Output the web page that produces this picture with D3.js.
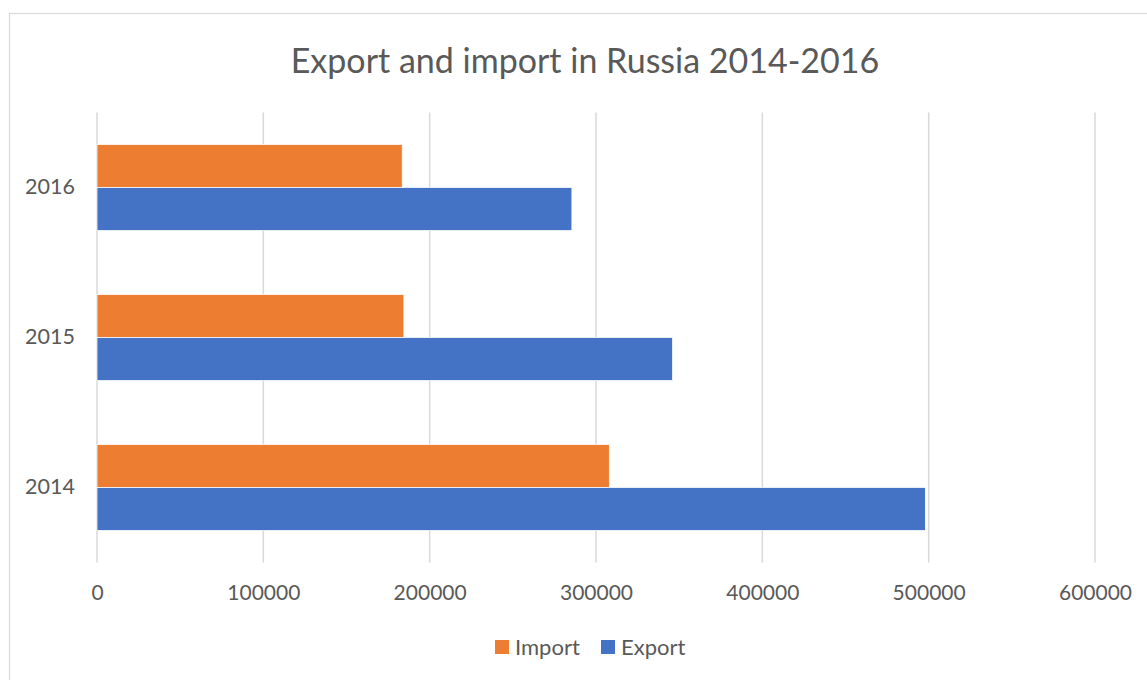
<!DOCTYPE html>
<html>
<head>
<meta charset="utf-8">
<script src="https://cdn.jsdelivr.net/npm/d3@7"></script>
<style>
  html, body { margin: 0; padding: 0; background: #fff; }
  svg { display: block; }
  text { font-family: Lato, "Open Sans", sans-serif; fill: #595959; }
</style>
</head>
<body>
<svg id="chart" width="1147" height="680"></svg>
<script>
// Export and import of Russia, 2014–2016
const years = ["2016", "2015", "2014"];
const seriesNames = ["Import", "Export"];
const importValues = [183500, 184500, 308000];
const exportValues = [285500, 346000, 498000];
const xTicks = [0, 100000, 200000, 300000, 400000, 500000, 600000];
const seriesColors = ["#ED7D31", "#4472C4"];

const rows = years.map((y, i) => ({ year: y, Import: importValues[i], Export: exportValues[i] }));

const W = 1147, H = 680;
const plot = { left: 97, right: 1095, top: 112.5, bottom: 562.5 };

const svg = d3.select("#chart");

// chart area frame
svg.append("rect")
  .attr("x", 9.5).attr("y", 13.5)
  .attr("width", W + 20).attr("height", H + 20)
  .attr("fill", "#fff").attr("stroke", "#D9D9D9").attr("stroke-width", 1.2);

// title
svg.append("text")
  .attr("x", 585).attr("y", 73)
  .attr("text-anchor", "middle")
  .style("font-size", "34px")
  .text("Export and import in Russia 2014-2016");

const x = d3.scaleLinear().domain([0, 600000]).range([plot.left, plot.right]);
const y = d3.scaleBand().domain(years).range([plot.top, plot.bottom])
  .paddingInner(0.4267).paddingOuter(0.21335);
const ySub = d3.scaleBand().domain(seriesNames).range([0, y.bandwidth()]);
const color = d3.scaleOrdinal().domain(seriesNames).range(seriesColors);

// vertical gridlines
svg.append("g")
  .selectAll("line")
  .data(xTicks)
  .join("line")
  .attr("x1", d => x(d)).attr("x2", d => x(d))
  .attr("y1", plot.top).attr("y2", plot.bottom)
  .attr("stroke", "#D9D9D9").attr("stroke-width", 1.5);

// x axis labels
const xAxis = d3.axisBottom(x).tickValues(xTicks).tickSize(0).tickPadding(0)
  .tickFormat(d3.format("d"));
const gx = svg.append("g").attr("transform", `translate(0,${plot.bottom + 23})`).call(xAxis);
gx.select(".domain").remove();
gx.selectAll("text").style("font-size", "21px").attr("fill", "#595959")
  .attr("dy", "0.71em");

// y axis labels
const yAxis = d3.axisLeft(y).tickSize(0).tickPadding(0);
const gy = svg.append("g").attr("transform", `translate(${plot.left - 22},0)`).call(yAxis);
gy.select(".domain").remove();
gy.selectAll("text").style("font-size", "21.5px").attr("fill", "#595959");

// bars
const groups = svg.append("g")
  .selectAll("g")
  .data(rows)
  .join("g")
  .attr("transform", d => `translate(0,${y(d.year)})`);

groups.selectAll("rect")
  .data(d => seriesNames.map(s => ({ key: s, value: d[s] })))
  .join("rect")
  .attr("x", x(0))
  .attr("y", d => ySub(d.key))
  .attr("width", d => x(d.value) - x(0))
  .attr("height", ySub.bandwidth())
  .attr("fill", d => color(d.key))
  .attr("stroke", "#fff").attr("stroke-width", 0.75);

// legend
const legend = svg.append("g").attr("transform", "translate(495,647)");
const items = legend.selectAll("g")
  .data(seriesNames)
  .join("g")
  .attr("transform", (d, i) => `translate(${i * 106},0)`);
items.append("rect")
  .attr("x", 0).attr("y", -7).attr("width", 14).attr("height", 14)
  .attr("fill", d => color(d));
items.append("text")
  .attr("x", 20).attr("y", 0).attr("dy", "0.35em")
  .style("font-size", "22px")
  .text(d => d);
</script>
</body>
</html>
